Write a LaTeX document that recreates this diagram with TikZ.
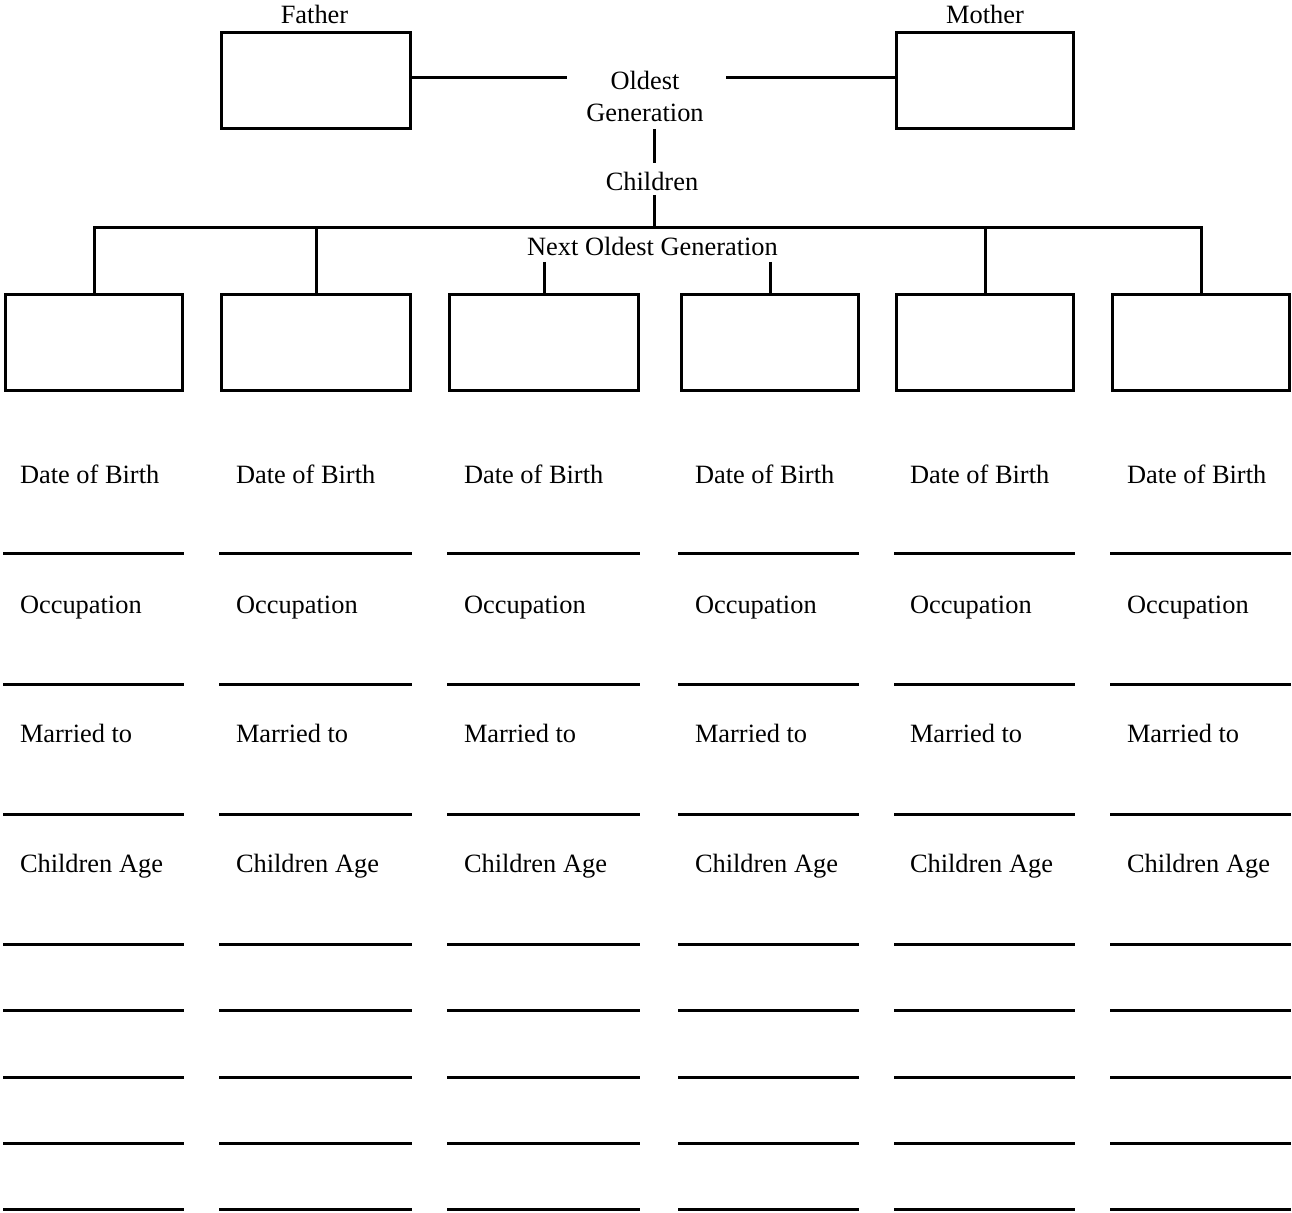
\documentclass[tikz,border=0pt]{standalone}
\usepackage{fontspec}
\setmainfont{Liberation Serif}
\begin{document}
\begin{tikzpicture}[x=0.5pt,y=-0.5pt,
  line width=1.5pt,
  every node/.style={font=\fontsize{13.2pt}{16pt}\selectfont, inner sep=0pt, outer sep=0pt},
  pbox/.style={draw, rectangle, minimum height=48pt},
  narrowbox/.style={pbox, minimum width=88.5pt},
  widebox/.style={pbox, minimum width=94.5pt},
  lbl/.style={anchor=base west},
  ttl/.style={anchor=base}]
\useasboundingbox (0,0) rectangle (1292,1213);
% oldest generation
\node[ttl] (fatherlbl) at (314.5,24) {Father};
\node[ttl] (motherlbl) at (985,24) {Mother};
\node[widebox] (father) at (316,81) {};
\node[narrowbox] (mother) at (985,81) {};
\node[ttl] (og1) at (645,90) {Oldest};
\node[ttl] (og2) at (645,122) {Generation};
\node[ttl] (ch) at (652,191) {Children};
\node[ttl] (nog) at (652.5,256) {Next Oldest Generation};
% children boxes
\node[narrowbox] (b1) at (94,342.5) {};
\node[widebox] (b2) at (316,342.5) {};
\node[widebox] (b3) at (544,342.5) {};
\node[narrowbox] (b4) at (769.5,342.5) {};
\node[narrowbox] (b5) at (985,342.5) {};
\node[narrowbox] (b6) at (1201,342.5) {};
% connectors
\coordinate (fl) at (567,77.5);
\coordinate (mr) at (726,77.5);
\draw (father.east |- fl) -- (fl);
\draw (mr) -- (mother.west |- mr);
\coordinate (v1a) at (654,129);
\coordinate (v1b) at (654,163);
\draw (v1a) -- (v1b);
\coordinate (v2a) at (654,195);
\coordinate (bus) at (654,228);
\draw (v2a) -- (bus);
\draw (b1.north) -- (b1.north |- bus) -- (b6.north |- bus) -- (b6.north);
\draw (b2.north) -- (b2.north |- bus);
\draw (b5.north) -- (b5.north |- bus);
\coordinate (d3) at (544,262);
\coordinate (d4) at (770,262);
\draw (d3) -- (b3.north);
\draw (d4) -- (d4 |- b4.north);
% labels
\foreach \x [count=\c] in {20,236,464,695,910,1127} {
  \foreach \y/\t [count=\r] in {484/Date of Birth,614/Occupation,743/Married to,873/Children Age} {
    \node[lbl] (l\c-\r) at (\x,\y) {\t};
  }
}
% blank lines
\foreach \xa/\xb in {3/184,219/412,447/640,678/859,894/1075,1110/1291} {
  \foreach \y in {554,684.5,815,945,1011,1077,1143,1209} {
    \draw (\xa,\y) -- (\xb,\y);
  }
}
\end{tikzpicture}
\end{document}
